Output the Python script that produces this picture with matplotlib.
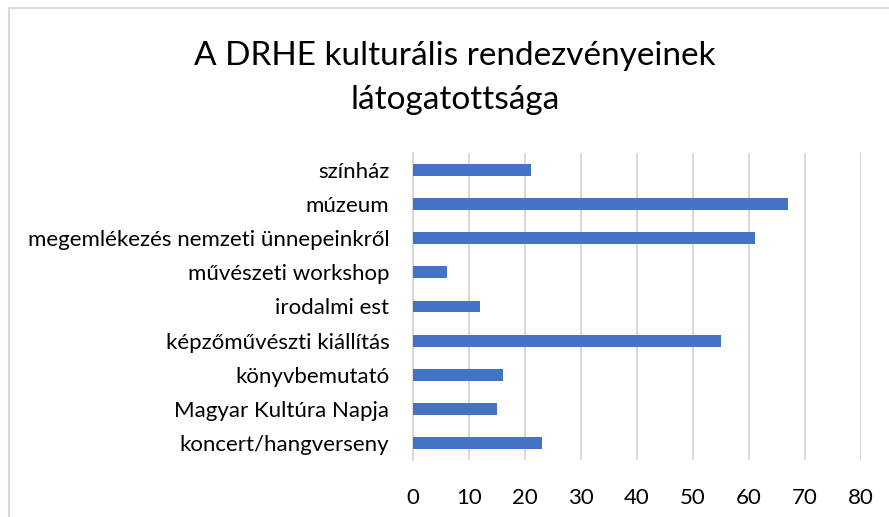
import matplotlib
matplotlib.use("Agg")
import matplotlib.pyplot as plt
from matplotlib.patches import Rectangle

categories = ["koncert/hangverseny", "Magyar Kultúra Napja", "könyvbemutató",
              "képzőművészti kiállítás", "irodalmi est", "művészeti workshop",
              "megemlékezés nemzeti ünnepeinkről", "múzeum", "színház"]
values = [23, 15, 16, 55, 12, 6, 61, 67, 21]
xticks = [0, 10, 20, 30, 40, 50, 60, 70, 80]
title = "A DRHE kulturális rendezvényeinek\nlátogatottsága"

plt.rcParams['font.family'] = ['Lato', 'DejaVu Sans']

W, H = 889, 517
fig = plt.figure(figsize=(W/100, H/100), dpi=100)
ax = fig.add_axes([413/W, 1-460/H, (861-413)/W, (460-153)/H])

ypos = list(range(len(categories)))
ax.barh(ypos, values, height=0.35, color="#4472C4", zorder=3)
ax.set_xlim(0, 80)
ax.set_ylim(-0.5, len(categories)-0.5)
ax.set_xticks(xticks)
ax.set_xticklabels([str(t) for t in xticks], fontsize=16, color="#000000")
ax.set_yticks(ypos)
ax.set_yticklabels(categories, fontsize=16, color="#000000")
ax.tick_params(axis='both', length=0)
ax.tick_params(axis='x', pad=20)
ax.tick_params(axis='y', pad=17)
ax.grid(axis='x', color="#d9d9d9", linewidth=1.5, zorder=0)
for s in ["top", "right", "bottom"]:
    ax.spines[s].set_visible(False)
ax.spines["left"].set_color("#d9d9d9")
ax.spines["left"].set_linewidth(1.5)

fig.text(455/W, 1-78/H, title, ha="center", va="center", fontsize=24,
         linespacing=1.55, color="#000000")

# chart frame
fig.patches.append(Rectangle((9/W, -0.1), 1.1, 1-8/H+0.1, transform=fig.transFigure,
                             fill=False, edgecolor="#d9d9d9", linewidth=1.5))

fig.savefig("out.png", dpi=100)
